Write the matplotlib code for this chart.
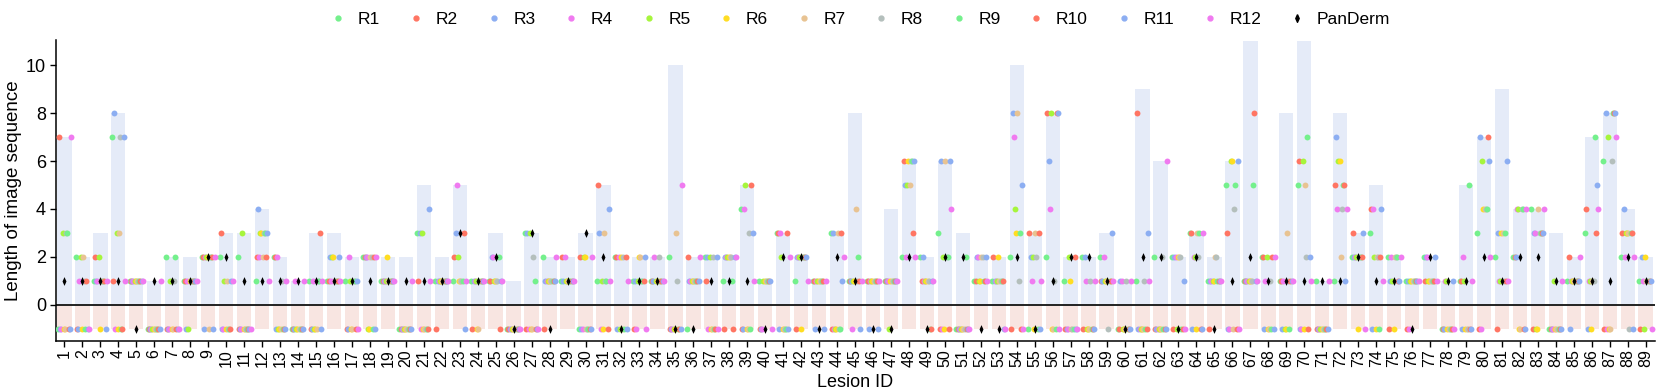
import numpy as np
import matplotlib
matplotlib.use("Agg")
import matplotlib.pyplot as plt
from matplotlib.lines import Line2D

plt.rcParams['font.family'] = ['Liberation Sans', 'DejaVu Sans']

lesion_ids = list(range(1, 90))

# length of image sequence per lesion
seq_len = [7, 2, 3, 8, 1, 1, 2, 2, 2, 3,
           3, 4, 2, 1, 3, 3, 2, 2, 2, 2,
           5, 2, 5, 1, 3, 1, 3, 2, 2, 3,
           5, 2, 2, 2, 10, 2, 2, 2, 5, 1,
           3, 2, 1, 3, 8, 1, 4, 6, 2, 6,
           3, 2, 2, 10, 3, 8, 2, 2, 3, 1,
           9, 6, 2, 3, 2, 6, 11, 2, 8, 11,
           1, 8, 3, 5, 2, 1, 2, 1, 5, 7,
           9, 4, 4, 3, 2, 7, 8, 4, 2]

panderm = [1, 1, 1, 1, -1, 1, 1, 1, 2, 2,
           1, 1, 1, 1, 1, 1, 1, 1, 1, 1,
           1, 1, 3, 1, 2, -1, 3, -1, 1, 3,
           2, -1, 1, 1, -1, -1, 1, 1, 1, -1,
           2, 2, -1, 2, 1, -1, -1, 2, -1, 2,
           2, -1, -1, 2, -1, 1, 2, 2, 1, -1,
           2, 2, -1, 2, -1, 1, 2, 1, 1, 1,
           1, 1, 2, 1, 1, -1, 2, 1, 1, 2,
           1, 2, 2, 1, 1, 1, 1, 2, 1]

# reader answers (-1 = no answer)
R1 = [-1, 2, 1, 7, 1, -1, 2, 1, 2, 2,
      2, 1, 2, -1, 1, 1, 1, 2, 1, -1,
      3, 1, 1, 1, 1, -1, 3, 2, 1, -1,
      1, 2, 1, 1, 2, -1, 2, 1, 4, 1,
      3, 1, 1, 3, 1, 1, 1, 2, 2, 3,
      -1, 1, 1, 2, -1, 2, 1, 2, 2, -1,
      1, 2, 2, 3, 1, 5, 1, 2, 1, 5,
      1, 1, 2, 3, 2, 1, 2, -1, 1, 3,
      2, 2, 4, -1, 1, 3, 6, 2, 1]
R2 = [7, -1, 2, 1, 1, -1, -1, 1, 2, 3,
      -1, 2, 2, -1, -1, 1, -1, 2, 1, -1,
      1, -1, 2, -1, 1, -1, -1, -1, 2, 2,
      5, 2, -1, 1, -1, 2, 1, -1, -1, -1,
      3, -1, 1, -1, 1, 1, 1, 6, 1, -1,
      -1, 1, 2, -1, 3, 8, -1, -1, 1, -1,
      8, -1, -1, 3, -1, 3, 1, 2, 1, 6,
      -1, 5, 3, 4, -1, -1, 1, -1, 1, -1,
      -1, 2, -1, -1, 2, 4, -1, 3, -1]
R3 = [-1, -1, 1, 8, 1, -1, -1, -1, -1, -1,
      -1, 4, -1, -1, -1, 2, -1, 2, 1, -1,
      3, 1, 3, 1, 2, -1, 3, 1, 1, -1,
      3, -1, 1, 1, -1, 1, 2, 2, -1, -1,
      -1, 2, -1, 3, 1, -1, 1, 5, 2, 6,
      -1, 2, 1, 8, 2, 6, -1, 2, 1, 1,
      -1, -1, 2, -1, 1, -1, 1, -1, -1, -1,
      -1, 7, 2, -1, 1, 1, 2, -1, -1, 7,
      3, 2, 3, -1, -1, -1, 8, 4, 2]
R4 = [-1, 1, 1, -1, 1, -1, -1, 1, 2, -1,
      -1, 2, 2, 1, 1, 1, 2, 2, 1, -1,
      -1, 1, 5, 1, 2, -1, -1, 1, 2, -1,
      -1, 2, -1, 2, -1, 1, -1, 2, 4, -1,
      3, 2, 1, -1, -1, 1, 1, 2, 1, -1,
      -1, 2, 1, 7, 1, 4, -1, 1, 2, 1,
      -1, -1, 2, 2, 1, -1, 1, 1, 1, -1,
      -1, 4, 2, 4, 2, -1, 2, 1, 2, -1,
      1, 4, 3, -1, 1, 1, -1, 2, 1]
R5 = [3, 2, 2, 3, 1, -1, 1, -1, 2, 1,
      3, 3, -1, -1, -1, 2, 1, -1, 1, -1,
      3, 1, 2, 1, 1, -1, 3, 1, 1, 2,
      1, -1, 1, 1, -1, 1, 2, 2, 5, 1,
      2, 2, 1, -1, 1, 1, -1, 5, 1, 2,
      -1, 1, 1, 4, 2, 8, 2, -1, 1, -1,
      -1, -1, -1, 2, 1, 6, 1, 2, -1, 6,
      -1, 6, 2, 2, 1, 1, 1, 1, 1, 6,
      1, 4, -1, 1, 1, 1, 7, 3, -1]
R6 = [-1, -1, -1, -1, 1, -1, -1, 1, 2, -1,
      -1, 3, -1, -1, -1, 2, -1, -1, 2, -1,
      -1, 1, 1, -1, 1, -1, -1, 1, 1, 2,
      -1, 2, 2, 1, -1, 1, -1, 2, -1, 1,
      -1, -1, 1, -1, 1, 1, 1, 6, 1, -1,
      -1, 1, 2, 3, -1, -1, 1, -1, 1, -1,
      -1, -1, 2, -1, 1, 6, 1, -1, -1, -1,
      -1, 6, -1, -1, -1, 1, 1, -1, -1, 4,
      3, -1, -1, -1, 1, -1, -1, 3, 2]
R7 = [-1, 2, 1, 3, 1, -1, -1, 1, -1, 1,
      -1, 2, -1, -1, -1, 1, -1, 2, 1, -1,
      -1, 1, 1, -1, 1, -1, -1, 1, 1, -1,
      3, -1, 2, 1, 3, 1, -1, 2, -1, 1,
      -1, 2, 1, 3, 4, 1, 1, 5, 1, 6,
      -1, 2, 1, 8, 3, -1, -1, -1, 1, -1,
      -1, -1, 2, 3, 2, -1, 1, -1, 3, 5,
      -1, 2, 2, 2, 2, 1, 1, -1, -1, 4,
      3, -1, 4, -1, 1, 1, -1, 3, 1]
R8 = [3, 1, 1, 7, 1, -1, 1, 1, 2, -1,
      -1, 3, 1, -1, 1, 1, 1, 2, 1, -1,
      -1, 1, 1, 1, 1, -1, 2, 1, 1, -1,
      1, 2, 1, 2, 1, 1, 2, 2, 3, 1,
      -1, 2, 1, -1, 1, 1, 1, 6, 1, 2,
      -1, 2, 1, 1, 2, 1, -1, 1, -1, 1,
      1, 2, 2, 2, 2, 4, 1, 1, 1, 2,
      -1, 4, 2, 2, 2, 1, 1, -1, -1, 4,
      1, 4, 3, -1, 1, 1, 6, -1, 1]
R9 = [3, -1, 1, -1, 1, -1, 2, 1, 2, -1,
      -1, 3, -1, -1, 1, 1, 1, -1, 1, -1,
      -1, 1, 1, 1, 2, -1, 1, 1, 1, -1,
      1, -1, 1, 1, -1, 1, -1, 1, -1, 1,
      -1, 2, 1, -1, 2, 1, 1, 6, -1, 2,
      2, 1, 1, 3, -1, -1, -1, -1, 1, -1,
      -1, -1, -1, 3, 1, 5, 5, -1, -1, 7,
      -1, 5, 2, -1, 2, 1, 1, -1, 5, 4,
      3, 4, 3, -1, 1, 7, 8, 3, 1]
R10 = [-1, 1, 1, -1, 1, -1, -1, 1, 2, -1,
       -1, 2, -1, -1, 3, 1, -1, 2, 1, -1,
       -1, 1, 3, 1, -1, -1, -1, 1, 1, -1,
       -1, 2, 1, 1, -1, 1, -1, -1, 5, 1,
       3, 2, 1, 3, 1, 1, 1, 3, -1, -1,
       -1, 1, 1, -1, 3, 8, 2, -1, 1, -1,
       -1, -1, -1, -1, 1, -1, 8, 2, 1, -1,
       -1, 5, 2, 2, 1, 1, 1, -1, -1, 7,
       1, -1, 3, -1, 1, 3, 8, 3, 1]
R11 = [-1, -1, -1, 7, 1, -1, -1, 1, -1, 1,
       -1, 3, -1, -1, -1, 2, 1, -1, 1, -1,
       4, 1, -1, 1, 1, -1, -1, 1, 1, -1,
       4, -1, 2, 1, -1, 1, 2, 2, 3, 1,
       -1, 2, -1, 1, -1, -1, 1, 6, 1, 6,
       -1, 2, -1, 5, -1, 8, -1, -1, 3, -1,
       3, -1, 1, -1, 1, 6, 1, -1, 1, 2,
       -1, 1, 3, 4, 1, 1, 2, 1, -1, 6,
       6, -1, 3, -1, 1, 5, 8, -1, 1]
R12 = [7, -1, 1, 1, 1, 1, -1, 1, 2, 1,
       -1, 1, 1, 1, 1, 1, -1, 2, 1, 1,
       1, 1, 1, 1, 1, -1, -1, 2, 1, 2,
       1, 1, -1, 1, 5, 2, -1, 2, 1, -1,
       2, 1, 1, 2, 1, 1, 1, 2, 1, 4,
       -1, 1, -1, -1, 1, -1, -1, 1, 1, 1,
       1, 6, -1, 3, 1, -1, 1, 2, 1, 1,
       1, 4, -1, 1, 2, 1, 1, -1, 1, 2,
       1, 4, 4, 1, 2, 4, 7, 2, -1]

readers = [R1, R2, R3, R4, R5, R6, R7, R8, R9, R10, R11, R12]
reader_names = ['R%d' % (i + 1) for i in range(12)]

# 8 colours, R9-R12 reuse the first four
base_colors = ['#74F08C', '#FF7563', '#8CAEF2', '#F07AF0',
               '#A6F53C', '#FFDD22', '#E8C392', '#B4BFBC']
reader_colors = base_colors + base_colors[:4]

# narrow diamond like the reference
thin_diamond = [(0, 1), (0.45, 0), (0, -1), (-0.45, 0), (0, 1)]

fig = plt.figure(figsize=(16.6, 3.9), dpi=100)
ax = fig.add_axes([0.0336, 0.1264, 0.9634, 0.771])

x = np.array(lesion_ids)
ax.bar(x, seq_len, width=0.8, color='#E5EBF8', zorder=1)
ax.bar(x, [-1] * len(x), width=0.8, color='#F8E5E1', zorder=1)
ax.axhline(0, color='#222222', lw=1.4, zorder=2)

offsets = np.linspace(-0.36, 0.36, 12)
for i, (vals, col) in enumerate(zip(readers, reader_colors)):
    ax.scatter(x + offsets[i], vals, s=18, color=col, linewidths=0,
               zorder=3 + i * 0.01)

ax.scatter(x, panderm, marker=thin_diamond, s=40, color='black',
           linewidths=0, zorder=4)

ax.set_xlim(0.52, 89.52)
ax.set_ylim(-1.5, 11.05)
ax.set_yticks([0, 2, 4, 6, 8, 10])
ax.set_xticks(x)
ax.set_xticklabels([str(i) for i in lesion_ids], rotation=90, fontsize=11.5)
ax.tick_params(axis='y', labelsize=13, length=4, width=1, pad=3)
ax.tick_params(axis='x', length=4, width=1, pad=2)
for s in ['top', 'right']:
    ax.spines[s].set_visible(False)
for s in ['left', 'bottom']:
    ax.spines[s].set_linewidth(1.1)
ax.set_xlabel('Lesion ID', fontsize=13)
ax.xaxis.set_label_coords(0.5, -0.112)
ax.set_ylabel('Length of image sequence', fontsize=13.5, labelpad=3)

handles = [Line2D([], [], marker='o', ls='', color=c, markersize=3.5)
           for c in reader_colors]
handles.append(Line2D([], [], marker=thin_diamond, ls='', color='black',
                      markersize=5.5))
fig.legend(handles, reader_names + ['PanDerm'], loc='upper center',
           bbox_to_anchor=(0.518, 1.01), ncol=13, frameon=False,
           fontsize=12.5, handlelength=1.0, handletextpad=0.63,
           columnspacing=1.56)

fig.savefig('out.png', dpi=100)
